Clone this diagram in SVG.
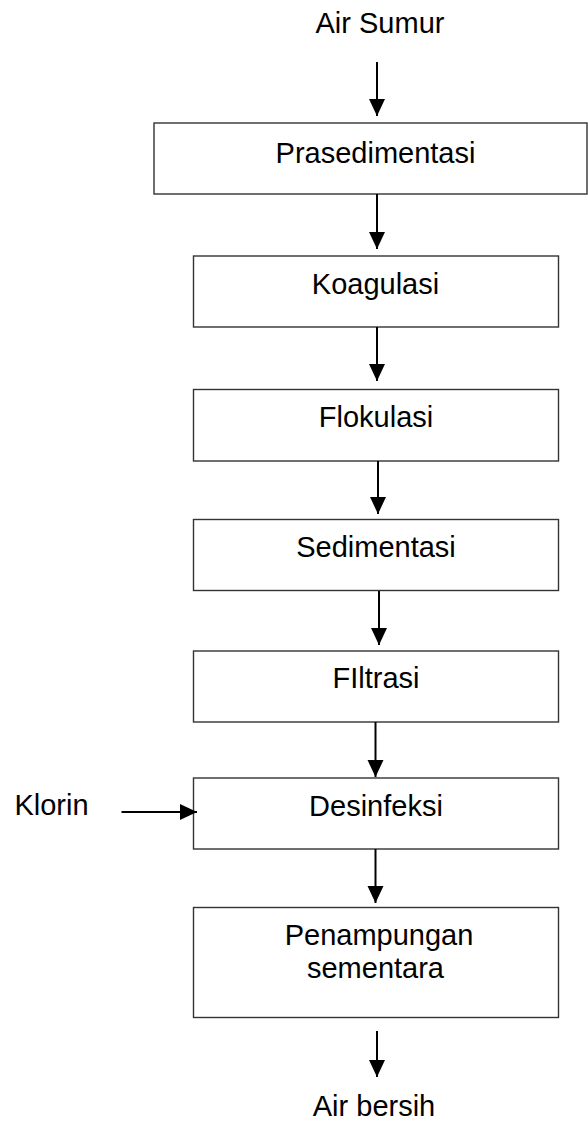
<svg xmlns="http://www.w3.org/2000/svg" width="588" height="1122" viewBox="0 0 588 1122">
<defs>
<style>
.box{fill:#fff;stroke:#333;stroke-width:1.4}
.t{font-family:"Liberation Sans",Arial,sans-serif;font-size:29px;fill:#000;text-anchor:middle}
.c{stroke:#000;stroke-width:2;fill:none}
</style>
<marker id="ah" markerUnits="userSpaceOnUse" markerWidth="18" markerHeight="17" refX="17" refY="8" orient="auto" viewBox="0 0 18 17">
<path d="M0,0 L17,8 L0,16 Z" fill="#000"/>
</marker>
</defs>
<rect width="588" height="1122" fill="#fff"/>
<g id="air-sumur"><text class="t" x="380" y="33">Air Sumur</text></g>
<g id="prasedimentasi"><rect class="box" x="154" y="123" width="433" height="71"/><text class="t" x="375.5" y="163">Prasedimentasi</text></g>
<g id="koagulasi"><rect class="box" x="193.5" y="256" width="365" height="71"/><text class="t" x="375.5" y="294">Koagulasi</text></g>
<g id="flokulasi"><rect class="box" x="193.5" y="389.5" width="365" height="71.5"/><text class="t" x="376" y="427">Flokulasi</text></g>
<g id="sedimentasi"><rect class="box" x="193.5" y="519.5" width="365" height="71"/><text class="t" x="376" y="557">Sedimentasi</text></g>
<g id="filtrasi"><rect class="box" x="193.5" y="651" width="365" height="71"/><text class="t" x="376" y="688">FIltrasi</text></g>
<g id="desinfeksi"><rect class="box" x="193.5" y="778" width="365" height="71"/><text class="t" x="376" y="816">Desinfeksi</text></g>
<g id="klorin"><text class="t" x="51.5" y="815">Klorin</text></g>
<g id="penampungan"><rect class="box" x="193.5" y="907.5" width="365" height="110"/><text class="t" x="379" y="945">Penampungan</text><text class="t" x="375.5" y="978">sementara</text></g>
<g id="air-bersih"><text class="t" x="374" y="1116">Air bersih</text></g>
<g id="connectors">
<line class="c" x1="377" y1="62" x2="377" y2="116" marker-end="url(#ah)"/>
<line class="c" x1="377" y1="194" x2="377" y2="249" marker-end="url(#ah)"/>
<line class="c" x1="377" y1="327" x2="377" y2="381" marker-end="url(#ah)"/>
<line class="c" x1="378" y1="461" x2="378" y2="514" marker-end="url(#ah)"/>
<line class="c" x1="379" y1="591" x2="379" y2="645" marker-end="url(#ah)"/>
<line class="c" x1="375.5" y1="722" x2="375.5" y2="777" marker-end="url(#ah)"/>
<line class="c" x1="375.5" y1="849" x2="375.5" y2="903" marker-end="url(#ah)"/>
<line class="c" x1="377" y1="1031" x2="377" y2="1077" marker-end="url(#ah)"/>
<line class="c" x1="121.5" y1="812" x2="197" y2="812" marker-end="url(#ah)"/>
</g>
</svg>
